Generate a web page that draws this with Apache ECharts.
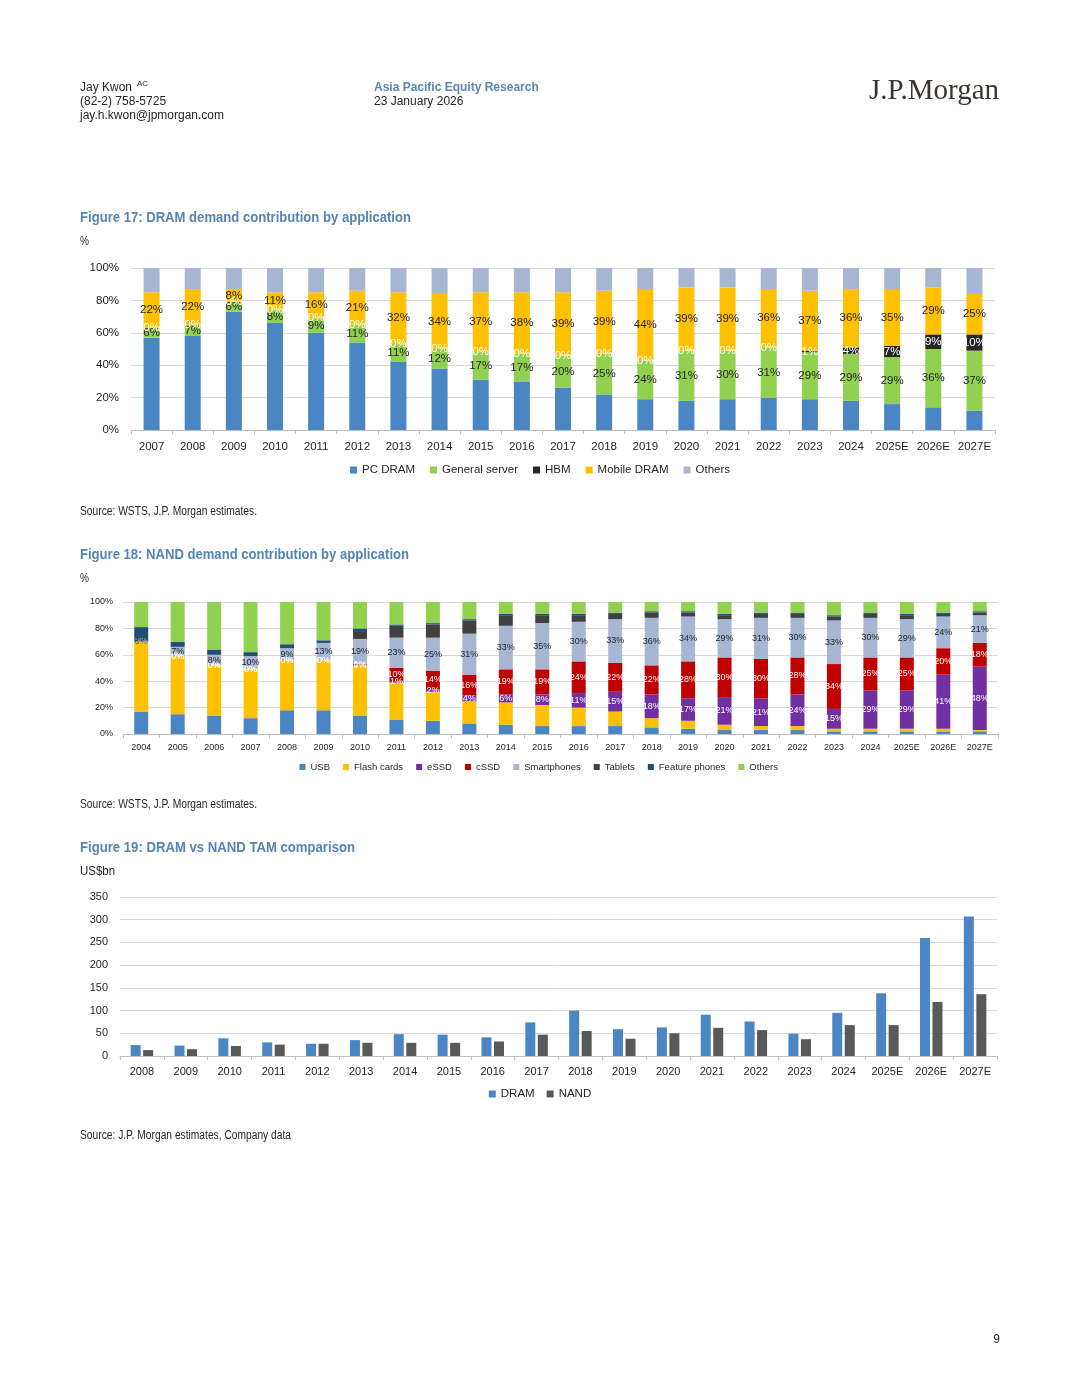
<!DOCTYPE html>
<html><head><meta charset="utf-8">
<script src="https://cdn.jsdelivr.net/npm/echarts@6/dist/echarts.min.js"></script>
<style>html,body{margin:0;padding:0;background:#fff}#c{width:1080px;height:1397px}</style>
</head><body><div id="c"></div>
<script>
// ---------- Figure 17 data (DRAM, %) ----------
const dramYears = ['2007','2008','2009','2010','2011','2012','2013','2014','2015','2016','2017','2018','2019','2020','2021','2022','2023','2024','2025E','2026E','2027E'];
const pcDram     = [57,58,73,66,60,54,42,38,31,30,26,22,19,18,19,20,19,18,16,14,12];
const genServer  = [6,7,6,8,9,11,11,12,17,17,20,25,24,31,30,31,29,29,29,36,37];
const hbm        = [0,0,0,0,0,0,0,0,0,0,0,0,0,0,0,0,1,4,7,9,10];
const mobileDram = [22,22,8,11,16,21,32,34,37,38,39,39,44,39,39,36,37,36,35,29,25];
const dramOthers = [15,13,13,15,15,14,15,16,15,15,15,14,13,12,12,13,14,13,13,12,16];

// ---------- Figure 18 data (NAND, %) ----------
const nandYears = ['2004','2005','2006','2007','2008','2009','2010','2011','2012','2013','2014','2015','2016','2017','2018','2019','2020','2021','2022','2023','2024','2025E','2026E','2027E'];
const usb          = [17,15,14,12,18,18,14,11,10,8,7,6,6,6,5,4,3,3,3,2,2,2,2,2];
const flashCards   = [53,44,38,37,38,38,38,28,22,17,17,16,14,11,7,6,4,3,3,2,2,2,2,1];
const eSSD         = [0,0,0,0,0,0,0,1,2,4,6,8,11,15,18,17,21,21,24,15,29,29,41,48];
const cSSD         = [0,0,0,0,0,0,1,10,14,16,19,19,24,22,22,28,30,30,28,34,25,25,20,18];
const smartphones  = [0,7,8,10,9,13,19,23,25,31,33,35,30,33,36,34,29,31,30,33,30,29,24,21];
const tablets      = [0,0,0,0,0,0,6,9,10,10,8,6,5,4,4,3,3,3,3,3,3,3,2,2];
const featurePh    = [11,4,4,3,3,2,2,1,1,1,1,1,1,1,1,1,1,1,1,1,1,1,1,1];
const nandOthers   = [19,30,36,38,32,29,20,17,16,13,9,9,9,8,7,7,9,8,8,10,8,9,8,7];

// ---------- Figure 19 data (US$bn) ----------
const tamYears = ['2008','2009','2010','2011','2012','2013','2014','2015','2016','2017','2018','2019','2020','2021','2022','2023','2024','2025E','2026E','2027E'];
const dramTam  = [24,23,39,30,27,35,48,47,41,74,100,59,63,91,76,49,95,138,260,307];
const nandTam  = [13,15,22,25,27,29,29,29,32,47,55,38,50,62,57,37,68,68,119,136];

const AF = '"Liberation Sans",Arial,sans-serif';
const TXT = '#262626';
const GRID = '#d9d9d9';
const TITLE = '#5585b5';
const C = {blue:'#4a85c4', green:'#92d050', yellow:'#ffc000', grey:'#a7b7d3', black:'#262626',
           purple:'#7030a0', red:'#c00000', dgrey:'#404040', navy:'#1f4e79', nand:'#595959'};

const mctx = document.createElement('canvas').getContext('2d');
function txt(x,y,text,font,fill,align){
  return {type:'text', silent:true, style:{x:x,y:y,text:text,font:font,fill:fill||TXT,
    textAlign:align||'left', align:align||'left', textVerticalAlign:'middle', verticalAlign:'middle'}};
}
// narrow text: Arial horizontally condensed to fit the measured width of the original
function ntxt(x,y,text,font,width,fill){
  mctx.font = font;
  const w = mctx.measureText(text).width;
  return {type:'text', silent:true, x:x, y:y, scaleX: width / w, scaleY:1,
    style:{x:0,y:0,text:text,font:font,fill:fill||TXT,
      textAlign:'left', align:'left', textVerticalAlign:'middle', verticalAlign:'middle'}};
}

const chart = echarts.init(document.getElementById('c'), null, {renderer:'canvas'});

function catAxis(gi, data, fs, margin){
  return {type:'category', gridIndex:gi, data:data,
    axisLine:{show:true, lineStyle:{color:'#bfbfbf'}},
    axisTick:{show:true, length:4, lineStyle:{color:'#bfbfbf'}},
    axisLabel:{color:TXT, fontSize:fs, fontFamily:AF, margin:margin, interval:0}};
}
function valAxis(gi, max, interval, fmt, fs, margin){
  return {type:'value', gridIndex:gi, min:0, max:max, interval:interval,
    axisLine:{show:false}, axisTick:{show:false},
    splitLine:{lineStyle:{color:GRID}},
    axisLabel:{color:TXT, fontSize:fs, fontFamily:AF, margin:margin, formatter:fmt}};
}
function lbl(color, fs){
  return {show:true, position:'inside', formatter:'{c}%', color:color, fontSize:fs, fontFamily:AF};
}
function sbar(name, data, color, axisIdx, stack, bw, label){
  const s = {name:name, type:'bar', stack:stack, xAxisIndex:axisIdx, yAxisIndex:axisIdx,
    data:data, barWidth:bw, itemStyle:{color:color}, emphasis:{disabled:true}};
  if(label) s.label = label;
  return s;
}

const option = {
  animation:false,
  backgroundColor:'#fff',
  grid:[
    {left:131, right:85, top:268, height:162},
    {left:123, right:82, top:602, height:132},
    {left:120, right:83, top:897, height:159}
  ],
  xAxis:[ catAxis(0, dramYears, 11.5, 11), catAxis(1, nandYears, 9, 9), catAxis(2, tamYears, 11, 10) ],
  yAxis:[ valAxis(0,100,20,'{value}%',11.5,12), valAxis(1,100,20,'{value}%',9,10), valAxis(2,350,50,'{value}',11,12) ],
  legend:[
    {data:['PC DRAM','General server','HBM','Mobile DRAM','Others'], left:'center', top:464, padding:0,
     icon:'rect', itemWidth:7, itemHeight:7, itemGap:15, selectedMode:false,
     textStyle:{color:TXT, fontSize:11.5, fontFamily:AF}},
    {data:['USB','Flash cards','eSSD','cSSD','Smartphones','Tablets','Feature phones','Others '], left:'center', top:762, padding:0,
     icon:'rect', itemWidth:6, itemHeight:6, itemGap:13, selectedMode:false,
     textStyle:{color:TXT, fontSize:9.5, fontFamily:AF}},
    {data:['DRAM','NAND'], left:'center', top:1088, padding:0,
     icon:'rect', itemWidth:7, itemHeight:7, itemGap:12, selectedMode:false,
     textStyle:{color:TXT, fontSize:11.5, fontFamily:AF}}
  ],
  series:[
    sbar('PC DRAM', pcDram, C.blue, 0, 'd', 16),
    sbar('General server', genServer, C.green, 0, 'd', 16, lbl(TXT,11.5)),
    sbar('HBM', hbm, C.black, 0, 'd', 16, lbl('#ffffff',11.5)),
    sbar('Mobile DRAM', mobileDram, C.yellow, 0, 'd', 16, lbl(TXT,11.5)),
    sbar('Others', dramOthers, C.grey, 0, 'd', 16),

    sbar('USB', usb, C.blue, 1, 'n', 14),
    sbar('Flash cards', flashCards, C.yellow, 1, 'n', 14),
    sbar('eSSD', eSSD, C.purple, 1, 'n', 14, lbl('#ffffff',9)),
    sbar('cSSD', cSSD, C.red, 1, 'n', 14, lbl('#ffffff',9)),
    sbar('Smartphones', smartphones, C.grey, 1, 'n', 14, lbl(TXT,9)),
    sbar('Tablets', tablets, C.dgrey, 1, 'n', 14),
    sbar('Feature phones', featurePh, C.navy, 1, 'n', 14),
    sbar('Others ', nandOthers, C.green, 1, 'n', 14),

    {name:'DRAM', type:'bar', xAxisIndex:2, yAxisIndex:2, data:dramTam, barWidth:10, barGap:'25%',
     itemStyle:{color:C.blue}, emphasis:{disabled:true}},
    {name:'NAND', type:'bar', xAxisIndex:2, yAxisIndex:2, data:nandTam, barWidth:10, barGap:'25%',
     itemStyle:{color:C.nand}, emphasis:{disabled:true}}
  ],
  graphic:[
    txt(80,88,'Jay Kwon','12px '+AF),
    txt(137,84,'AC','8px '+AF),
    txt(80,102,'(82-2) 758-5725','12px '+AF),
    txt(80,116,'jay.h.kwon@jpmorgan.com','12px '+AF),
    txt(374,88,'Asia Pacific Equity Research','bold 12px '+AF,'#5b86b4'),
    txt(374,102,'23 January 2026','12px '+AF),
    txt(999,91,'J.P.Morgan','29px "Liberation Serif","DejaVu Serif",serif','#3b3532','right'),

    ntxt(80,218,'Figure 17: DRAM demand contribution by application','bold 14px '+AF,331,TITLE),
    ntxt(80,241,'%','13px '+AF,9),
    ntxt(80,512,'Source: WSTS, J.P. Morgan estimates.','12px '+AF,177),

    ntxt(80,555,'Figure 18: NAND demand contribution by application','bold 14px '+AF,329,TITLE),
    ntxt(80,578,'%','13px '+AF,9),
    ntxt(80,805,'Source: WSTS, J.P. Morgan estimates.','12px '+AF,177),

    ntxt(80,848,'Figure 19: DRAM vs NAND TAM comparison','bold 14px '+AF,275,TITLE),
    ntxt(80,871,'US$bn','13px '+AF,35),
    ntxt(80,1136,'Source: J.P. Morgan estimates, Company data','12px '+AF,211),

    txt(1000,1340,'9','12px '+AF,TXT,'right')
  ]
};
chart.setOption(option);
</script>
</body></html>
